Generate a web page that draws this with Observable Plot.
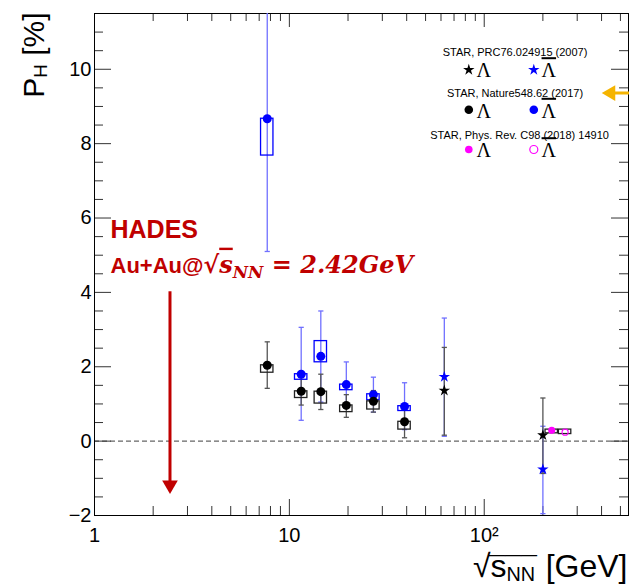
<!DOCTYPE html>
<html><head><meta charset="utf-8">
<script src="https://cdn.jsdelivr.net/npm/d3@7"></script>
<script src="https://cdn.jsdelivr.net/npm/@observablehq/plot@0.6"></script>
<style>body{margin:0;background:#fff} svg{display:block}</style>
</head><body><div id="chart"></div>
<script>
// ---------- DATA ----------
// STAR, Nature 548, 62 (2017)
const natureEnergy       = [7.7, 11.5, 14.5, 19.6, 27, 39];
const natureLambda       = [2.04, 1.34, 1.33, 0.96, 1.07, 0.52];
const natureLambdaStatLo = [1.42, 0.97, 0.85, 0.64, 0.78, 0.09];
const natureLambdaStatHi = [2.67, 1.71, 1.80, 1.25, 1.36, 0.95];
const natureLambdaSysLo  = [1.84, 1.16, 1.01, 0.78, 0.85, 0.31];
const natureLambdaSysHi  = [2.04, 1.34, 1.33, 0.96, 1.07, 0.52];
const natureAnti         = [8.67, 1.80, 2.28, 1.52, 1.25, 0.93];
const natureAntiStatLo   = [5.10, 0.56, 1.05, 0.91, 0.78, 0.31];
const natureAntiStatHi   = [12.24, 3.06, 3.50, 2.13, 1.72, 1.57];
const natureAntiSysLo    = [7.68, 1.65, 2.12, 1.37, 1.10, 0.81];
const natureAntiSysHi    = [8.67, 1.80, 2.69, 1.52, 1.26, 0.94];
// STAR, PRC 76, 024915 (2007)
const prcEnergy    = [62.4, 200];
const prcLambda    = [1.36, 0.16];
const prcLambdaLo  = [0.16, -0.87];
const prcLambdaHi  = [2.52, 1.16];
const prcAnti      = [1.73, -0.76];
const prcAntiLo    = [0.13, -1.95];
const prcAntiHi    = [3.31, 0.40];
// STAR, Phys. Rev. C 98 (2018) 014910 (200 GeV, drawn offset)
const prc18Kind   = ["Λ", "anti-Λ"];
const prc18X      = [222, 260];
const prc18Value  = [0.29, 0.24];
const prc18SysLo  = [0.21, 0.19];
const prc18SysHi  = [0.31, 0.31];
// HADES annotation
const hadesEnergy = 2.44;
const hadesArrowTop = 4.03;
const hadesArrowTip = -1.42;
// Axis ticks
const xMajorTicks = [1, 10, 100];
const xTickLabels = ["1", "10", "10²"];
const xMinorTicks = [2,3,4,5,6,7,8,9,20,30,40,50,60,70,80,90,200,300,400,500];
const yMajorTicks = [-2, 0, 2, 4, 6, 8, 10];
const yMinorTicks = [-1.5,-1,-0.5,0.5,1,1.5,2.5,3,3.5,4.5,5,5.5,6.5,7,7.5,8.5,9,9.5,10.5,11];
// Legend
const legendTitles = ["STAR, PRC76.024915 (2007)", "STAR, Nature548.62 (2017)", "STAR, Phys. Rev. C98 (2018) 14910"];

// ---------- LAYOUT ----------
const W = 629, H = 585, mL = 94, mR = 1, mT = 13, mB = 70;
const innerW = W - mL - mR, innerH = H - mT - mB;
const boxFactor = 1.076;
const BLUE = "#0000ff", BLUE_ERR = "#7070ff", BLACK_ERR = "#555555", RED = "#c00000", MAG = "#ff00ff";
const capSymbol = {draw(ctx) { ctx.moveTo(-2.6, 0); ctx.lineTo(2.6, 0); }};

const nature = natureEnergy.map((e, i) => ({
  e, l: natureLambda[i], lLo: natureLambdaStatLo[i], lHi: natureLambdaStatHi[i], lsLo: natureLambdaSysLo[i], lsHi: natureLambdaSysHi[i],
  a: natureAnti[i], aLo: natureAntiStatLo[i], aHi: natureAntiStatHi[i], asLo: natureAntiSysLo[i], asHi: natureAntiSysHi[i]
}));
const prc = prcEnergy.map((e, i) => ({e, l: prcLambda[i], lLo: prcLambdaLo[i], lHi: prcLambdaHi[i], a: prcAnti[i], aLo: prcAntiLo[i], aHi: prcAntiHi[i]}));
const prc18 = prc18X.map((e, i) => ({kind: prc18Kind[i], e, v: prc18Value[i], sLo: prc18SysLo[i], sHi: prc18SysHi[i]}));

function errorBars(data, x, lo, hi, color) {
  return [
    Plot.link(data, {x1: x, x2: x, y1: lo, y2: hi, stroke: color, strokeWidth: 1.3, clip: true}),
    Plot.dot(data, {x, y: lo, symbol: capSymbol, stroke: color, strokeWidth: 1.3, fill: "none", clip: true}),
    Plot.dot(data, {x, y: hi, symbol: capSymbol, stroke: color, strokeWidth: 1.3, fill: "none", clip: true})
  ];
}
function sysBoxes(data, x, lo, hi, color) {
  return Plot.rect(data, {x1: d => d[x] / boxFactor, x2: d => d[x] * boxFactor, y1: lo, y2: hi, fill: "none", stroke: color, strokeWidth: 1.3});
}

const legendRows = [
  [{symbol: "star", fill: "black", r: 3.6}, {symbol: "star", fill: BLUE, r: 3.6}],
  [{symbol: "circle", fill: "black", r: 4.3}, {symbol: "circle", fill: BLUE, r: 4.3}],
  [{symbol: "circle", fill: MAG, r: 3.8}, {symbol: "circle", fill: "white", stroke: MAG, r: 4}]
];
const titleDx = [420.5, 420.5, 425], titleDy = [42, 83, 125.3];
const symDy = [56.3, 96.3, 136], lamDy = [63.7, 104.3, 143.7];
const legendMarks = legendTitles.flatMap((t, i) => [
  Plot.text([t], {frameAnchor: "top-left", dx: titleDx[i], dy: titleDy[i], textAnchor: "middle", lineAnchor: "bottom", fontSize: 11}),
  Plot.dot([0], {frameAnchor: "top-left", dx: 374.3, dy: symDy[i], ...legendRows[i][0]}),
  Plot.dot([0], {frameAnchor: "top-left", dx: 439.3, dy: symDy[i], strokeWidth: 1.2, ...legendRows[i][1]}),
  Plot.text(["Λ"], {frameAnchor: "top-left", dx: 389.3, dy: lamDy[i], textAnchor: "middle", lineAnchor: "bottom", fontSize: 20, fontFamily: "'Liberation Serif', 'Times New Roman', serif"}),
  Plot.text(["Λbar"], {frameAnchor: "top-left", dx: 454.3, dy: lamDy[i], textAnchor: "middle", lineAnchor: "bottom", fontSize: 20, fontFamily: "'Liberation Serif', 'Times New Roman', serif"})
]);

const svg = Plot.plot({
  width: W, height: H, marginLeft: mL, marginRight: mR, marginTop: mT, marginBottom: mB,
  style: {fontFamily: "'Liberation Sans', Arial, Helvetica, sans-serif", background: "white", color: "black", overflow: "visible"},
  x: {type: "log", domain: [1, 550]},
  y: {domain: [-2, 11.5]},
  marks: [
    // zero line
    Plot.ruleY([0], {stroke: "#666", strokeWidth: 1.2, strokeDasharray: "5,3"}),
    // ticks (inside frame)
    Plot.tickX(xMajorTicks, {x: d => d, insetTop: innerH - 16, stroke: "#333"}),
    Plot.tickX(xMinorTicks, {x: d => d, insetTop: innerH - 9, stroke: "#333"}),
    Plot.tickX(xMajorTicks, {x: d => d, insetBottom: innerH - 14, stroke: "#333"}),
    Plot.tickX(xMinorTicks, {x: d => d, insetBottom: innerH - 8, stroke: "#333"}),
    Plot.tickY(yMajorTicks, {y: d => d, insetRight: innerW - 17, stroke: "#333"}),
    Plot.tickY(yMinorTicks, {y: d => d, insetRight: innerW - 9, stroke: "#333"}),
    Plot.tickY(yMajorTicks, {y: d => d, insetLeft: innerW - 17, stroke: "#333"}),
    Plot.tickY(yMinorTicks, {y: d => d, insetLeft: innerW - 9, stroke: "#333"}),
    Plot.frame({stroke: "black", strokeWidth: 1}),
    Plot.axisX(xMajorTicks, {tickSize: 0, tickPadding: 12, fontSize: 20, label: null, tickFormat: d => xTickLabels[xMajorTicks.indexOf(d)]}),
    Plot.axisY(yMajorTicks, {tickSize: 0, tickPadding: 3, fontSize: 20, label: null}),
    // axis titles
    Plot.text(["P_H [%]"], {frameAnchor: "top-left", dx: -51, dy: -1, rotate: -90, textAnchor: "end", lineAnchor: "bottom", fontSize: 30}),
    Plot.text(["√s_NN [GeV]"], {frameAnchor: "bottom-right", dx: -1, dy: 61, textAnchor: "end", lineAnchor: "bottom", fontSize: 32}),
    // HADES
    Plot.link([hadesEnergy], {x1: d => d, x2: d => d, y1: hadesArrowTop, y2: hadesArrowTip + 0.3, stroke: RED, strokeWidth: 3}),
    Plot.dot([hadesEnergy], {x: d => d, y: hadesArrowTip, symbol: "triangle", rotate: 180, r: 5.8, dy: -9, fill: RED}),
    Plot.text(["HADES"], {x: 1.208, y: 5.46, textAnchor: "start", lineAnchor: "bottom", fontSize: 25, fontWeight: "bold", fill: RED}),
    Plot.text(["Au+Au@√s_NN = 2.42GeV"], {x: 1.208, y: 4.53, textAnchor: "start", lineAnchor: "bottom", fontSize: 22, fontWeight: "bold", fill: RED}),
    // Nature 2017
    ...errorBars(nature, "e", "aLo", "aHi", BLUE_ERR),
    ...errorBars(nature, "e", "lLo", "lHi", BLACK_ERR),
    sysBoxes(nature, "e", "asLo", "asHi", BLUE),
    sysBoxes(nature, "e", "lsLo", "lsHi", "#222"),
    Plot.dot(nature, {x: "e", y: "a", r: 4.5, fill: BLUE}),
    Plot.dot(nature, {x: "e", y: "l", r: 4.5, fill: "black"}),
    // PRC 2007
    ...errorBars(prc, "e", "aLo", "aHi", BLUE_ERR),
    ...errorBars(prc, "e", "lLo", "lHi", BLACK_ERR),
    Plot.dot(prc, {x: "e", y: "a", symbol: "star", r: 3.6, fill: BLUE}),
    Plot.dot(prc, {x: "e", y: "l", symbol: "star", r: 3.6, fill: "black"}),
    // PRC 2018
    sysBoxes(prc18, "e", "sLo", "sHi", "#222"),
    Plot.dot(prc18, {x: "e", y: "v", r: d => d.kind === "Λ" ? 3.8 : 4, fill: d => d.kind === "Λ" ? MAG : "none", stroke: MAG, strokeWidth: 1.1}),
    // legend
    ...legendMarks,
    // orange pointer arrow
    Plot.link([9.36], {x1: 650, x2: 420, y1: d => d, y2: d => d, stroke: "#f5b400", strokeWidth: 3}),
    Plot.dot([9.36], {x: 401, y: d => d, symbol: "triangle", rotate: -90, r: 5.8, dx: 9, fill: "#f5b400"})
  ]
});

// ---------- rich text (sub/superscripts, overlines) ----------
function rich(root, plain, build) {
  d3.select(root).selectAll("text").filter(function() { return this.textContent === plain; })
    .each(function() { const t = d3.select(this); t.text(null); build(t); });
}
rich(svg, "P_H [%]", t => {
  t.append("tspan").text("P");
  t.append("tspan").attr("font-size", "62%").attr("dy", 3).text("H");
  t.append("tspan").attr("dy", -3).text(" [%]");
});
rich(svg, "√s_NN [GeV]", t => {
  t.append("tspan").attr("font-family", "'DejaVu Sans', sans-serif").attr("font-weight", 200).text("√");
  t.append("tspan").text("s");
  t.append("tspan").attr("font-size", "62%").attr("dy", 4).text("NN");
  // radical bar: macrons drawn back over s_NN
  t.append("tspan").attr("font-size", "90%").attr("dy", -4).attr("dx", -46).text("\u00AF\u00AF\u00AF");
  t.append("tspan").text(" [GeV]");
});
rich(svg, "Au+Au@√s_NN = 2.42GeV", t => {
  t.append("tspan").text("Au+Au@");
  const m = t.append("tspan").attr("font-family", "'DejaVu Serif', serif").attr("font-style", "italic").attr("font-size", 24);
  m.append("tspan").attr("font-style", "normal").text("√");
  m.append("tspan").style("text-decoration", "overline").text("s");
  m.append("tspan").attr("font-size", "70%").attr("dy", 5).text("NN");
  m.append("tspan").attr("dy", -5).text(" = 2.42GeV");
});
rich(svg, "Λbar", t => { t.append("tspan").style("text-decoration", "overline").text("Λ"); });

document.getElementById("chart").appendChild(svg);
</script>
</body></html>
